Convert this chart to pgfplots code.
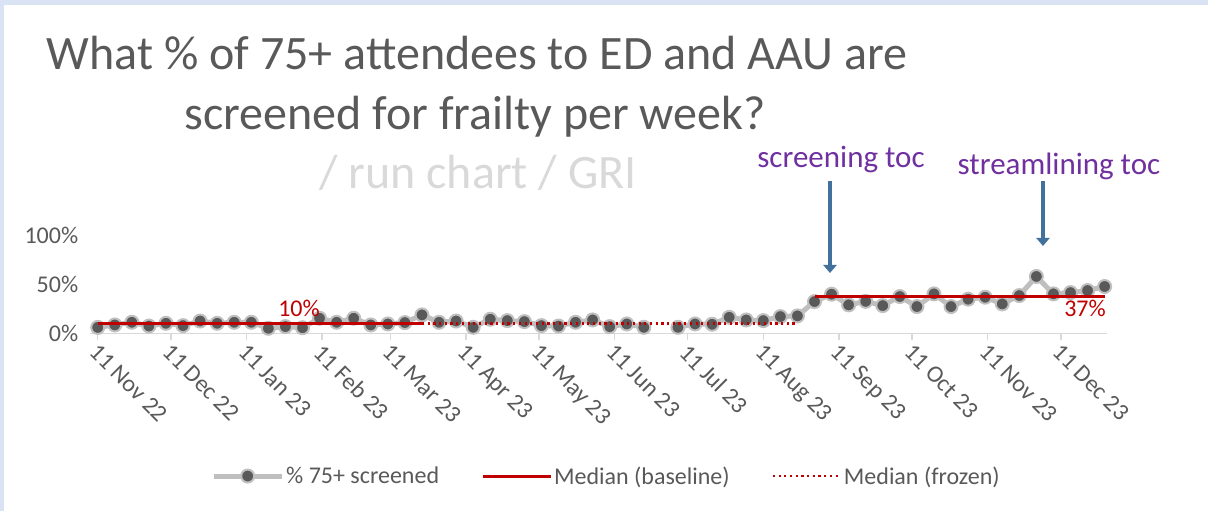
\documentclass[border=0pt]{standalone}
\usepackage{pgfplots}
\pgfplotsset{compat=1.18}
\usepackage{pgfplotstable}
\usepackage{fontspec}
\setmainfont{Carlito}
\usetikzlibrary{arrows.meta}

\definecolor{framebg}{HTML}{DAE3F3}
\definecolor{titlegray}{HTML}{595959}
\definecolor{subgray}{HTML}{D9D9D9}
\definecolor{axgray}{HTML}{D9D9D9}
\definecolor{serline}{HTML}{BFBFBF}
\definecolor{markfill}{HTML}{595959}
\definecolor{medred}{HTML}{C00000}
\definecolor{arrowblue}{HTML}{41719C}
\definecolor{annpurple}{HTML}{7030A0}

% weekly values, x = days since 11 Nov 22
\pgfplotstableread{
day pct
0   6
7   8.5
14  11.2
21  7.4
28  10.2
35  7.8
42  12.5
49  10.2
56  11.2
63  11.2
70  5.1
77  6.8
84  5.7
91  15.3
98  11.2
105 15.3
112 8.5
119 9.5
126 10.9
133 18.7
140 11.2
147 12.5
154 6.1
161 14.3
168 12.9
175 11.9
182 7.8
189 7.4
196 11.2
203 13.6
210 6.8
217 9.5
224 6.1
231 nan
238 6.1
245 9.5
252 9.2
259 16.3
266 13.6
273 12.9
280 17.0
287 17.7
294 32.3
301 39.8
308 28.9
315 32.5
322 28.2
329 37.4
336 27.2
343 40.1
350 27.2
357 34.7
364 36.7
371 29.9
378 38.4
385 57.8
392 40.1
399 41.4
406 43.5
413 47.6
}\screened

\begin{document}
\begin{tikzpicture}[x=1bp,y=1bp]
\useasboundingbox (0,0) rectangle (1208,-511);
\fill[framebg] (0,0) rectangle (1208,-5);
\fill[framebg] (0,0) rectangle (4,-511);

% title
\node[anchor=base, text=titlegray, font=\fontsize{48bp}{56bp}\selectfont, inner sep=0pt]
  at (477,-70) {What \% of 75+ attendees to ED and AAU are};
\node[anchor=base, text=titlegray, font=\fontsize{48bp}{56bp}\selectfont, inner sep=0pt]
  at (475,-130) {screened for frailty per week?};
\node[anchor=base, text=subgray, font=\fontsize{48bp}{56bp}\selectfont, inner sep=0pt]
  at (478,-189) {/ run chart / GRI};

\begin{axis}[
  at={(97.7bp,-333.3bp)}, anchor=origin,
  scale only axis, width=1016.7bp, height=98.3bp,
  xmin=-3, xmax=414, ymin=0, ymax=100,
  axis lines*=left,
  x axis line style={draw=axgray, line width=1.5bp},
  y axis line style={draw=none},
  xtick={0,30,61,92,120,151,181,212,242,273,304,334,365,395},
  xticklabels={11 Nov 22,11 Dec 22,11 Jan 23,11 Feb 23,11 Mar 23,11 Apr 23,11 May 23,
    11 Jun 23,11 Jul 23,11 Aug 23,11 Sep 23,11 Oct 23,11 Nov 23,11 Dec 23},
  x tick style={draw=axgray, line width=1.5bp},
  tick align=outside, major tick length=7bp,
  ytick={0,50,100}, y tick style={draw=none},
  yticklabel={\pgfmathprintnumber{\tick}\%},
  /pgf/number format/assume math mode=true,
  tick label style={font=\fontsize{24bp}{28bp}\selectfont, text=titlegray},
  yticklabel style={anchor=east, inner sep=0pt, xshift=-5bp},
  xticklabel style={rotate=-45, anchor=north west, inner sep=0pt, xshift=3bp},
  clip=false,
  clip mode=individual,
  unbounded coords=jump,
  legend columns=3,
  legend style={at={(0.5076,-1.452)}, anchor=center, draw=none, fill=none,
    font=\fontsize{24bp}{28bp}\selectfont, text=titlegray,
    /tikz/every even column/.append style={column sep=40bp}},
  legend cell align=left,
  legend image code/.code={\draw[mark repeat=2,mark phase=2,#1]
    plot coordinates {(0bp,0bp) (34bp,0bp) (68bp,0bp)};},
]
\addplot[draw=serline, line width=5bp, mark=*, mark size=6.5bp,
  mark options={fill=markfill, draw=serline, line width=2bp}] table[x=day,y=pct] {\screened};
\addlegendentry{\% 75+ screened}
\addplot[draw=medred, line width=3bp] coordinates {(0,10) (133,10) (200,nan) (294,37) (413,37)};
\addlegendentry{Median (baseline)}
\addplot[draw=medred, line width=2.2bp, dash pattern=on 2.2bp off 3.5bp] coordinates {(133,10) (287,10)};
\addlegendentry{Median (frozen)}
\end{axis}

% median labels
\node[anchor=base, text=medred, font=\fontsize{24bp}{28bp}\selectfont, inner sep=0pt] at (299,-317) {10\%};
\node[anchor=base, text=medred, font=\fontsize{24bp}{28bp}\selectfont, inner sep=0pt] at (1085,-317) {37\%};

% annotations
\node[anchor=base, text=annpurple, font=\fontsize{31bp}{36bp}\selectfont, inner sep=0pt] at (841,-168) {screening toc};
\node[anchor=base, text=annpurple, font=\fontsize{31bp}{36bp}\selectfont, inner sep=0pt] at (1059,-175) {streamlining toc};
\draw[arrowblue, line width=4bp, -{Triangle[width=13bp,length=8bp]}] (830,-181) -- (830,-273);
\draw[arrowblue, line width=4bp, -{Triangle[width=13bp,length=8bp]}] (1043,-181) -- (1043,-246);
\end{tikzpicture}
\end{document}
